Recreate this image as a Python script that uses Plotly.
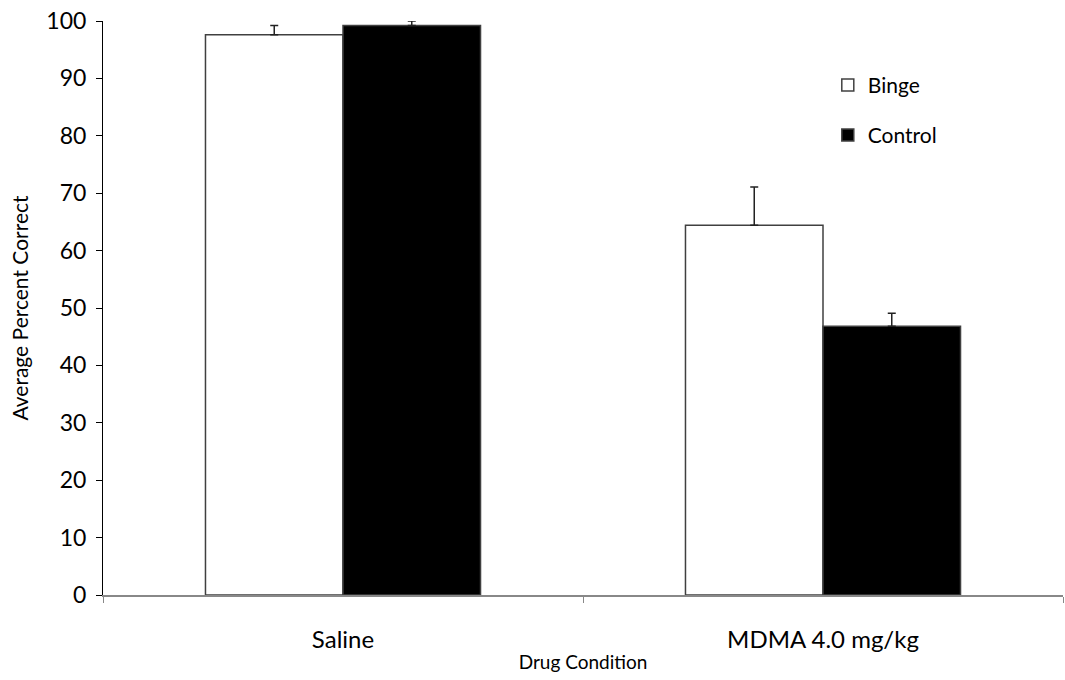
import plotly.graph_objects as go

categories = ["Saline", "MDMA 4.0 mg/kg"]
binge = [97.6, 64.4]
binge_err = [1.6, 6.7]
control = [99.2, 46.8]
control_err = [0.8, 2.3]

font = "Lato, 'Open Sans', sans-serif"

fig = go.Figure()
fig.add_trace(go.Bar(
    name="Binge", x=categories, y=binge,
    marker=dict(color="white", line=dict(color="#404040", width=1.5)),
    error_y=dict(type="data", symmetric=False, array=binge_err,
                 arrayminus=[0, 0], color="#222", thickness=1.5, width=4),
    legend="legend", showlegend=True,
))
fig.add_trace(go.Bar(
    name="Control", x=categories, y=control,
    marker=dict(color="black", line=dict(color="#404040", width=1.5)),
    error_y=dict(type="data", symmetric=False, array=control_err,
                 arrayminus=[0, 0], color="#222", thickness=1.5, width=4),
    legend="legend2", showlegend=True,
))

fig.update_layout(
    width=1065, height=680,
    margin=dict(l=103, r=2, t=21, b=85),
    paper_bgcolor="white", plot_bgcolor="white",
    showlegend=True,
    barmode="group", bargap=0.427, bargroupgap=0,
    font=dict(family=font, color="black"),
    legend=dict(x=0.755, y=0.888, xanchor="left", yanchor="middle",
                font=dict(size=21), bgcolor="rgba(0,0,0,0)"),
    legend2=dict(x=0.755, y=0.801, xanchor="left", yanchor="middle",
                 font=dict(size=21), bgcolor="rgba(0,0,0,0)"),
    xaxis=dict(
        type="category", tickson="boundaries", ticks="outside", ticklen=6,
        tickcolor="#888", showline=True, linecolor="#888", linewidth=2,
        tickfont=dict(size=24), showgrid=False, ticklabelstandoff=22,
        title=dict(text="Drug Condition", font=dict(size=19), standoff=4),
    ),
    yaxis=dict(
        range=[0, 100], dtick=10, ticks="outside", ticklen=6,
        tickcolor="black", showline=True, linecolor="black", linewidth=1,
        tickfont=dict(size=23), showgrid=False, zeroline=False,
        ticklabelstandoff=5,
        title=dict(text="Average Percent Correct", font=dict(size=21), standoff=12),
    ),
)

fig.write_html("out.html")
